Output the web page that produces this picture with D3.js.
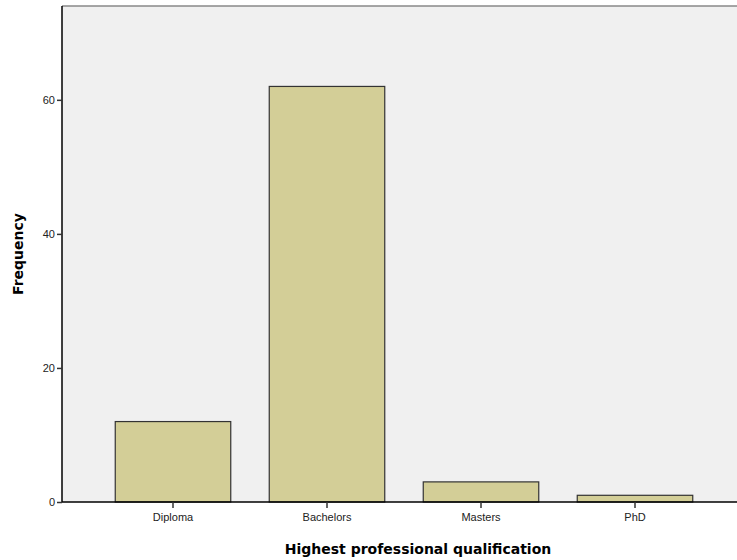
<!DOCTYPE html>
<html><head><meta charset="utf-8">
<script src="https://cdn.jsdelivr.net/npm/d3@7"></script>
<style>body{margin:0;background:#fff}svg{display:block}</style>
</head><body>
<svg id="c" width="737" height="560"></svg>
<script>
const categories = ["Diploma","Bachelors","Masters","PhD"];
const frequencies = [12, 62, 3, 1];
const yTicks = [0, 20, 40, 60];

const svg = d3.select("#c");
const L = 62, R = 737, T = 6, B = 502;
const x = d3.scaleBand().domain(categories).range([96, 712]).paddingInner(0.25).paddingOuter(0.125);
const y = d3.scaleLinear().domain([0, 74]).range([B, T]);

svg.append("rect").attr("x", L).attr("y", T).attr("width", R - L).attr("height", B - T).attr("fill", "#f0f0f0");
svg.append("line").attr("x1", L).attr("x2", R).attr("y1", T).attr("y2", T).attr("stroke", "#888").attr("stroke-width", 1.5);

svg.selectAll("rect.bar").data(categories).enter().append("rect").attr("class", "bar")
  .attr("x", d => x(d)).attr("width", x.bandwidth())
  .attr("y", (d, i) => y(frequencies[i])).attr("height", (d, i) => B - y(frequencies[i]))
  .attr("fill", "#d3ce97").attr("stroke", "#333").attr("stroke-width", 1.2);

const ya = svg.append("g").attr("transform", `translate(${L},0)`)
  .call(d3.axisLeft(y).tickValues(yTicks).tickSize(5).tickPadding(2).tickFormat(d3.format("d")));
ya.select(".domain").attr("d", `M0,${T}V${B}`).attr("stroke", "#000").attr("stroke-width", 1.5);
ya.selectAll(".tick line").attr("stroke", "#333").attr("stroke-width", 1.5);
ya.selectAll("text").attr("font-family", "Liberation Sans, Arial, sans-serif").attr("font-size", 11).attr("fill", "#222");

const xa = svg.append("g").attr("transform", `translate(0,${B})`)
  .call(d3.axisBottom(x).tickSize(6).tickPadding(5));
xa.select(".domain").attr("d", `M${L},0H${R}`).attr("stroke", "#000").attr("stroke-width", 1.5);
xa.selectAll(".tick line").attr("stroke", "#333").attr("stroke-width", 1.5);
xa.selectAll("text").attr("font-family", "Liberation Sans, Arial, sans-serif").attr("font-size", 11).attr("fill", "#222");

svg.append("text").attr("x", 418).attr("y", 554).attr("text-anchor", "middle")
  .attr("font-family", "DejaVu Sans, sans-serif").attr("font-weight", "bold").attr("font-size", 14)
  .text("Highest professional qualification");
svg.append("text").attr("transform", "translate(23,254) rotate(-90)").attr("text-anchor", "middle")
  .attr("font-family", "DejaVu Sans, sans-serif").attr("font-weight", "bold").attr("font-size", 14)
  .text("Frequency");
</script>
</body></html>
